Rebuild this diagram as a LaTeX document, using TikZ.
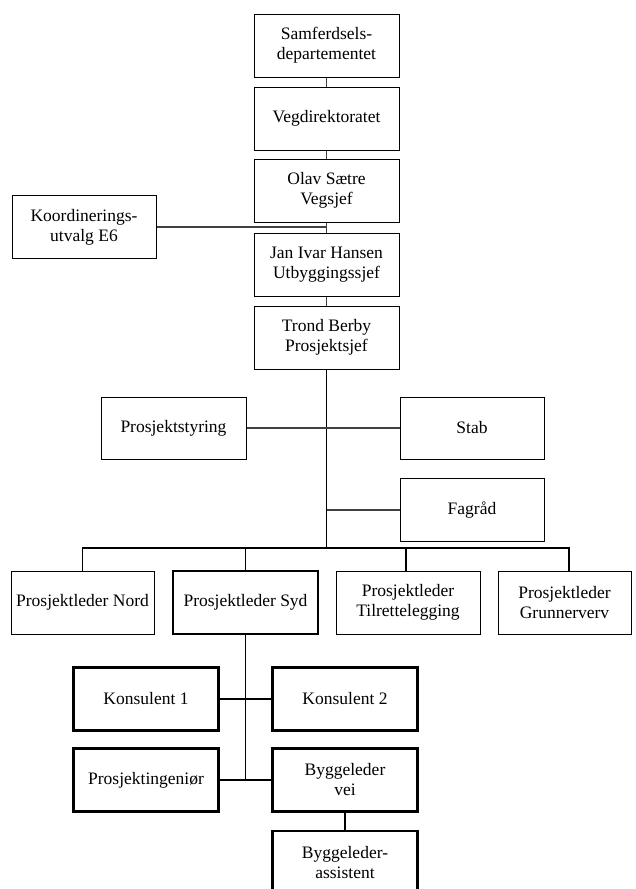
\documentclass[tikz,border=0pt]{standalone}
\usepackage{fontspec}
\setmainfont{Liberation Serif}
\begin{document}
\begin{tikzpicture}[x=1pt,y=-1pt,
  box/.style={draw=black,line width=1pt,minimum width=145pt,minimum height=63pt,align=center,inner sep=0pt,font=\fontsize{17.5}{20}\selectfont},
  tbox/.style={box,line width=2.5pt},
  conn/.style={draw=black!75,line width=1.2pt},
  bold/.style={draw=black,line width=1.8pt}]
\useasboundingbox (0,0) rectangle (635,889);
\fill[white] (0,0) rectangle (635,889);
% top chain
\node[box] (sam) at (326.5,45.5) {Samferdsels-\\departementet};
\node[box] (veg) at (326.5,118.5) {Vegdirektoratet};
\node[box] (olav) at (326.5,190.5) {Olav Sætre\\Vegsjef};
\node[box] (jan) at (326.5,264.5) {Jan Ivar Hansen\\Utbyggingssjef};
\node[box] (trond) at (326.5,337.5) {Trond Berby\\Prosjektsjef};
\node[box,minimum width=144pt] (koord) at (84,227) {Koordinerings-\\utvalg E6};
% staff
\node[box,minimum height=62pt] (pstyr) at (173.5,428) {Prosjektstyring};
\node[box,minimum width=144pt,minimum height=62pt] (stab) at (472,428) {Stab};
\node[box,minimum width=144pt] (fag) at (472,510) {Fagråd};
% project leaders
\node[box,minimum width=143pt] (nord) at (82.5,602.5) {Prosjektleder Nord};
\node[tbox] (syd) at (245.5,602.5) {Prosjektleder Syd};
\node[box,minimum width=144pt] (tilr) at (408,602.5) {Prosjektleder\\Tilrettelegging};
\node[box,minimum width=133pt] (grunn) at (564.5,602.5) {Prosjektleder\\Grunnerverv};
% south team
\node[tbox] (k1) at (146,699) {Konsulent 1};
\node[tbox] (k2) at (345,699) {Konsulent 2};
\node[tbox] (ping) at (146,780) {Prosjektingeniør};
\node[tbox] (bvei) at (345,780) {Byggeleder\\vei};
\node[tbox] (bass) at (345,862.5) {Byggeleder-\\assistent};
% coordinates
\coordinate (kj) at (326.5,227);
\coordinate (bus) at (326.5,548);
\coordinate (fj) at (326.5,510);
\coordinate (sj) at (245.5,780);
% connectors
\draw[conn] (sam) -- (veg);
\draw[conn] (veg) -- (olav);
\draw[conn] (olav) -- (jan);
\draw[conn] (jan) -- (trond);
\draw[conn] (koord.east) -- (kj);
\draw[bold] (trond.south) -- (bus);
\draw[conn] (pstyr.east) -- (stab.west);
\draw[conn] (fj) -- (fag.west);
\draw[bold,line width=1.4pt] (nord.north) |- (bus);
\draw[bold,line width=1.4pt] (bus) -| ([xshift=4.5pt]grunn.north);
\draw[bold,line width=1.4pt] (syd.north) -- (syd.north |- bus);
\draw[bold,line width=1.4pt] ([xshift=-2pt]tilr.north) -- ([xshift=-2pt]tilr.north |- bus);
\draw[bold,line width=1.5pt] (syd.south) -- (sj);
\draw[conn,draw=black] (k1.east) -- (k2.west);
\draw[conn,draw=black] (ping.east) -- (bvei.west);
\draw[conn,draw=black] (bvei.south) -- (bass.north);
\end{tikzpicture}
\end{document}
